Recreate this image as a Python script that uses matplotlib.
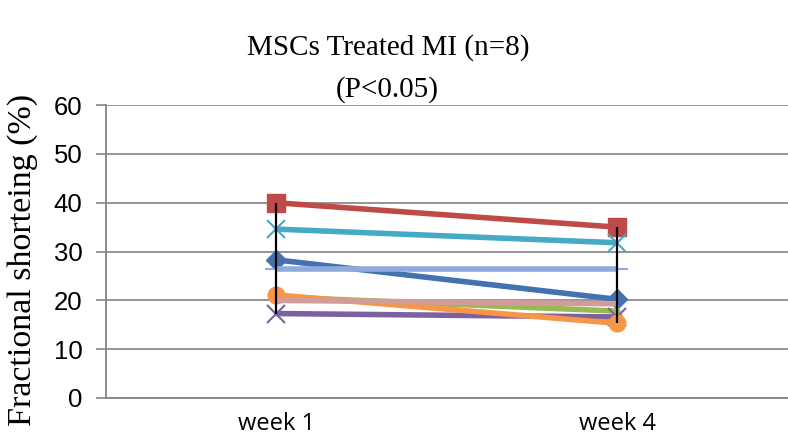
import matplotlib
matplotlib.use("Agg")
import matplotlib.pyplot as plt

categories = ["week 1", "week 4"]
series_colors = ["#4472AE", "#BE4B48", "#98B954", "#7D60A0", "#46AAC5", "#F79646", "#8FAADC", "#D29C9A"]
series_markers = ["D", "s", "^", "x", "x", "o", "_", None]
series_week1 = [28.3, 40.0, 20.7, 17.3, 34.6, 21.1, 26.5, 20.0]
series_week4 = [20.2, 35.0, 17.8, 16.6, 31.8, 15.3, 26.5, 19.3]
yticks = [0, 10, 20, 30, 40, 50, 60]

fig = plt.figure(figsize=(7.88, 4.4), dpi=100)
ax = fig.add_axes([0.1345, 0.0955, 0.8655, 0.6655])

x = [0, 1]
msize = {"D": 10, "s": 13, "^": 7, "x": 13, "o": 12, "_": 16}
for c, m, v1, v4 in zip(series_colors, series_markers, series_week1, series_week4):
    kw = {}
    if m is not None:
        kw = dict(marker=m, markersize=msize[m], markerfacecolor=c,
                  markeredgecolor=c, markeredgewidth=1.5 if m in ("x", "_") else 1)
    ax.plot(x, [v1, v4], color=c, lw=4, solid_capstyle="butt", zorder=3, **kw)

# high-low lines
for i, vals in enumerate([series_week1, series_week4]):
    ax.vlines(i, min(vals), max(vals), color="black", lw=1.6, zorder=5)

ax.set_xlim(-0.5, 1.5)
ax.set_ylim(0, 60)
ax.set_yticks(yticks)
ax.set_yticklabels([str(t) for t in yticks], fontsize=18.5, family="Liberation Sans")
ax.set_xticks(x)
ax.set_xticklabels(categories, fontsize=17, family="Open Sans")
ax.tick_params(axis="y", length=7, width=1.2, color="#868686", pad=10)
ax.tick_params(axis="x", length=0, pad=10)
ax.yaxis.grid(True, color="#8C8C8C", lw=1.3)
ax.set_axisbelow(True)
for s in ["top", "right"]:
    ax.spines[s].set_visible(False)
ax.spines["left"].set_color("#868686")
ax.spines["bottom"].set_color("#868686")
ax.spines["left"].set_linewidth(1.3)
ax.spines["bottom"].set_linewidth(1.3)

fig.text(0.029, 0.41, "Fractional shorteing (%)", rotation=90, ha="center", va="center",
         fontsize=24.5, family="Liberation Serif")

fig.text(0.493, 0.875, "MSCs Treated MI (n=8)", ha="center", va="baseline",
         fontsize=21, family="Liberation Serif")
fig.text(0.491, 0.78, "(P<0.05)", ha="center", va="baseline",
         fontsize=21, family="Liberation Serif")

fig.savefig("out.png", dpi=100)
